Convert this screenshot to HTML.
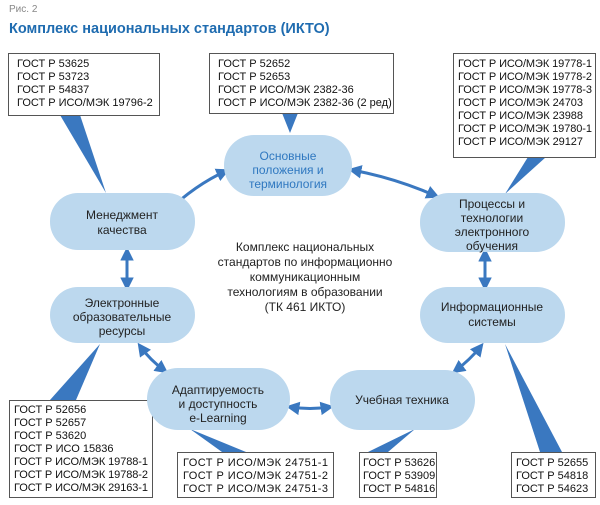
<!DOCTYPE html>
<html><head><meta charset="utf-8"><style>
html,body{margin:0;padding:0;background:#fff}
svg{display:block}
text{font-family:"Liberation Sans",sans-serif}
</style></head><body>
<svg width="600" height="505" viewBox="0 0 600 505" xmlns="http://www.w3.org/2000/svg">
<defs>
<marker id="ah" viewBox="0 0 10 10" refX="7" refY="5" markerWidth="4.5" markerHeight="4.5" orient="auto-start-reverse">
<path d="M0,0 L10,5 L0,10 z" fill="#3a78c0"/></marker>
</defs>
<text x="9" y="12" font-size="10" fill="#888">Рис. 2</text>
<text x="9" y="33" font-size="14.5" font-weight="bold" fill="#1f6cb0">Комплекс национальных стандартов (ИКТО)</text>

<g fill="#3a78c0">
<polygon points="60,115 80,115 106,193"/>
<polygon points="282,113 298,113 290,133"/>
<polygon points="528,157 546,157 505,194"/>
<polygon points="50,400 76,400 100,344"/>
<polygon points="222,452 246,452 190,429"/>
<polygon points="368,452 388,452 415,429"/>
<polygon points="540,452 562,452 505,344"/>
</g>

<g fill="#fff" stroke="#555" stroke-width="1">
<rect x="8.5" y="53.5" width="151" height="62"/>
<rect x="209.5" y="53.5" width="184" height="60"/>
<rect x="453.5" y="53.5" width="142" height="104"/>
<rect x="9.5" y="400.5" width="143" height="97"/>
<rect x="177.5" y="452.5" width="156" height="45"/>
<rect x="359.5" y="452.5" width="77" height="45"/>
<rect x="511.5" y="452.5" width="84" height="45"/>
</g>
<g font-size="11" fill="#111">
<text x="17" y="67">ГОСТ Р 53625</text><text x="17" y="80">ГОСТ Р 53723</text><text x="17" y="93">ГОСТ Р 54837</text><text x="17" y="106">ГОСТ Р ИСО/МЭК 19796-2</text>
<text x="218" y="67">ГОСТ Р 52652</text><text x="218" y="80">ГОСТ Р 52653</text><text x="218" y="93">ГОСТ Р ИСО/МЭК 2382-36</text><text x="218" y="106">ГОСТ Р ИСО/МЭК 2382-36 (2 ред)</text>
<text x="458" y="67" textLength="134">ГОСТ Р ИСО/МЭК 19778-1</text><text x="458" y="80" textLength="134">ГОСТ Р ИСО/МЭК 19778-2</text><text x="458" y="93" textLength="134">ГОСТ Р ИСО/МЭК 19778-3</text><text x="458" y="106" textLength="125">ГОСТ Р ИСО/МЭК 24703</text><text x="458" y="119" textLength="125">ГОСТ Р ИСО/МЭК 23988</text><text x="458" y="132" textLength="134">ГОСТ Р ИСО/МЭК 19780-1</text><text x="458" y="145" textLength="125">ГОСТ Р ИСО/МЭК 29127</text>
<text x="14" y="413">ГОСТ Р 52656</text><text x="14" y="426">ГОСТ Р 52657</text><text x="14" y="439">ГОСТ Р 53620</text><text x="14" y="452">ГОСТ Р ИСО 15836</text><text x="14" y="465" textLength="134">ГОСТ Р ИСО/МЭК 19788-1</text><text x="14" y="478" textLength="134">ГОСТ Р ИСО/МЭК 19788-2</text><text x="14" y="491" textLength="134">ГОСТ Р ИСО/МЭК 29163-1</text>
<text x="183" y="466" textLength="145">ГОСТ Р ИСО/МЭК 24751-1</text><text x="183" y="479" textLength="145">ГОСТ Р ИСО/МЭК 24751-2</text><text x="183" y="492" textLength="145">ГОСТ Р ИСО/МЭК 24751-3</text>
<text x="363" y="466">ГОСТ Р 53626</text><text x="363" y="479">ГОСТ Р 53909</text><text x="363" y="492">ГОСТ Р 54816</text>
<text x="516" y="466">ГОСТ Р 52655</text><text x="516" y="479">ГОСТ Р 54818</text><text x="516" y="492">ГОСТ Р 54623</text>
</g>

<g stroke="#3a78c0" stroke-width="3" fill="none" marker-start="url(#ah)" marker-end="url(#ah)">
<path d="M167,212 Q195,185 226,171"/>
<path d="M352,170 Q395,178 436,196"/>
<path d="M485,252 L485,287"/>
<path d="M127,251 L127,287"/>
<path d="M140,346 Q150,360 165,371"/>
<path d="M290,407 Q310,410 330,407"/>
<path d="M455,371 Q470,360 481,346"/>
</g>

<g fill="#bcd8ee">
<rect x="224" y="135" width="128" height="61" rx="30"/>
<rect x="50" y="193" width="145" height="57" rx="28"/>
<rect x="420" y="193" width="145" height="59" rx="29"/>
<rect x="50" y="287" width="145" height="56" rx="28"/>
<rect x="420" y="287" width="145" height="56" rx="28"/>
<rect x="147" y="368" width="143" height="62" rx="31"/>
<rect x="330" y="370" width="145" height="60" rx="30"/>
</g>
<g font-size="12" text-anchor="middle" fill="#222">
<text x="288" y="160" fill="#2f78c0">Основные</text><text x="288" y="174" fill="#2f78c0">положения и</text><text x="288" y="188" fill="#2f78c0">терминология</text>
<text x="122" y="219">Менеджмент</text><text x="122" y="234">качества</text>
<text x="492" y="208">Процессы и</text><text x="492" y="222">технологии</text><text x="492" y="236">электронного</text><text x="492" y="250">обучения</text>
<text x="122" y="307">Электронные</text><text x="122" y="321">образовательные</text><text x="122" y="335">ресурсы</text>
<text x="492" y="311">Информационные</text><text x="492" y="326">системы</text>
<text x="218" y="394">Адаптируемость</text><text x="218" y="408">и доступность</text><text x="218" y="422">e-Learning</text>
<text x="402" y="404">Учебная техника</text>
<text x="305" y="251">Комплекс национальных</text><text x="305" y="266">стандартов по информационно</text><text x="305" y="281">коммуникационным</text><text x="305" y="296">технологиям в образовании</text><text x="305" y="311">(ТК 461 ИКТО)</text>
</g>
</svg>
</body></html>
